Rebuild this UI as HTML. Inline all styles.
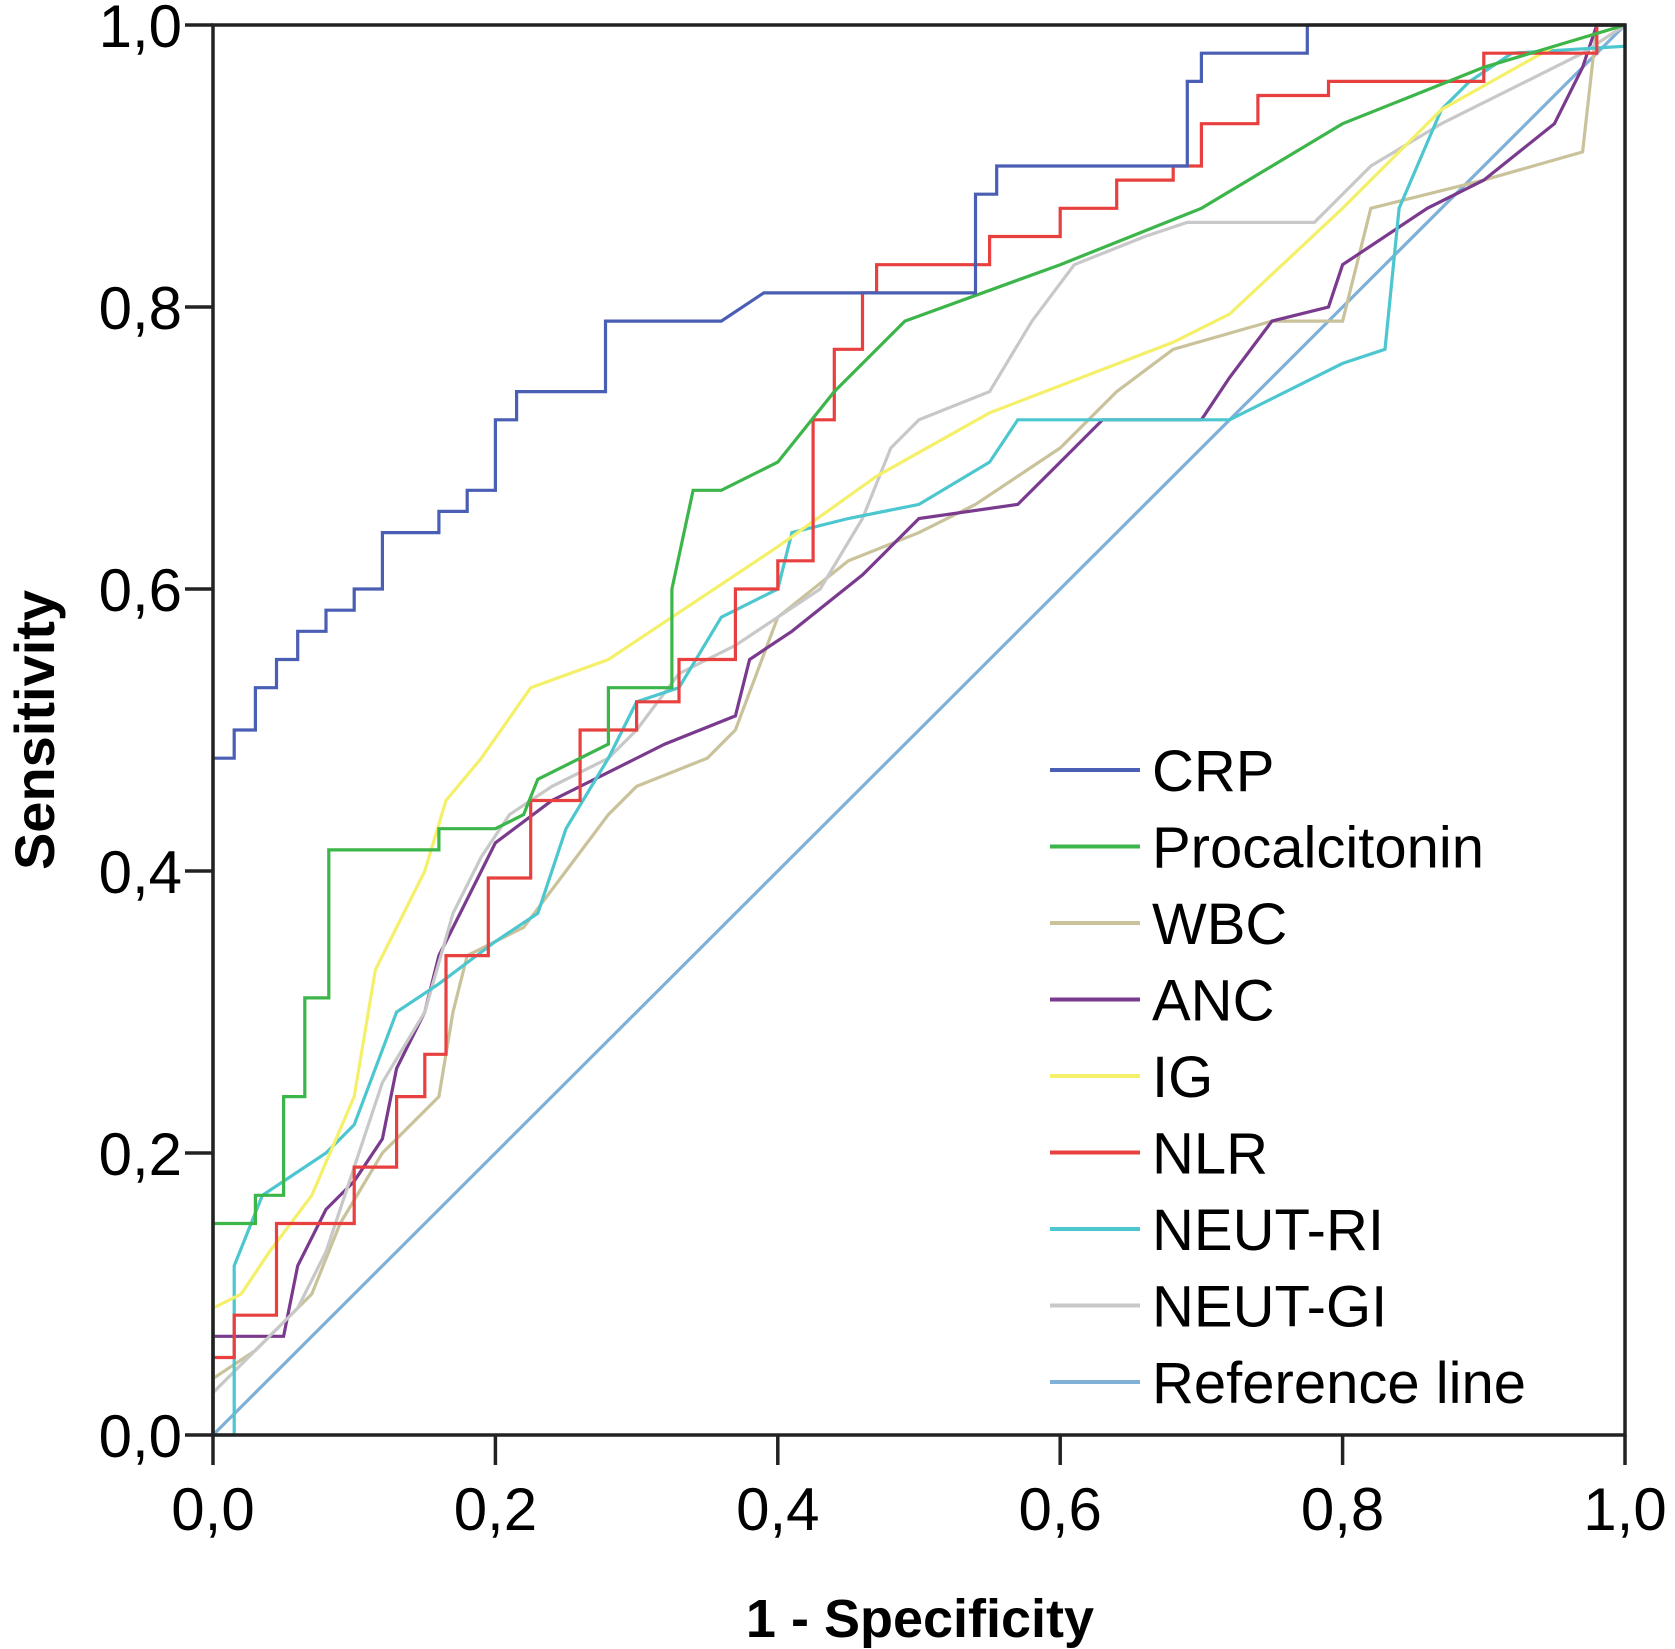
<!DOCTYPE html>
<html><head><meta charset="utf-8"><style>
html,body{margin:0;padding:0;background:#fff;}
svg{display:block;font-family:"Liberation Sans",Arial,sans-serif;}
</style></head><body>
<svg id="chart" width="1675" height="1649" viewBox="0 0 1675 1649">
<g id="series"></g>
<g id="axes"></g>
<g id="legend"></g>
<text x="920" y="1637" font-size="54" font-weight="bold" text-anchor="middle">1 - Specificity</text>
<text x="0" y="0" font-size="56" font-weight="bold" text-anchor="middle" transform="translate(54,730) rotate(-90)">Sensitivity</text>
</svg>
<script>
const xTicks = [0,0.2,0.4,0.6,0.8,1.0];
const yTicks = [0,0.2,0.4,0.6,0.8,1.0];
const tickLabels = ["0,0","0,2","0,4","0,6","0,8","1,0"];
const seriesNames = ["CRP","Procalcitonin","WBC","ANC","IG","NLR","NEUT-RI","NEUT-GI","Reference line"];
const seriesColors = ["#4a5fb4","#3cb54a","#c9c29a","#7a3a8e","#f4f06a","#e8403f","#4cc6cf","#c8c8c8","#7eb0d8"];
const crp = [[0,0],[0,0.48],[0.015,0.48],[0.015,0.5],[0.03,0.5],[0.03,0.53],[0.045,0.53],[0.045,0.55],[0.06,0.55],[0.06,0.57],[0.08,0.57],[0.08,0.585],[0.1,0.585],[0.1,0.6],[0.12,0.6],[0.12,0.64],[0.16,0.64],[0.16,0.655],[0.18,0.655],[0.18,0.67],[0.2,0.67],[0.2,0.72],[0.215,0.72],[0.215,0.74],[0.278,0.74],[0.278,0.79],[0.36,0.79],[0.39,0.81],[0.54,0.81],[0.54,0.88],[0.555,0.88],[0.555,0.9],[0.69,0.9],[0.69,0.96],[0.70,0.96],[0.70,0.98],[0.775,0.98],[0.775,1],[1,1]];
const procalcitonin = [[0,0],[0,0.15],[0.03,0.15],[0.03,0.17],[0.05,0.17],[0.05,0.24],[0.065,0.24],[0.065,0.31],[0.082,0.31],[0.082,0.415],[0.16,0.415],[0.16,0.43],[0.2,0.43],[0.22,0.44],[0.23,0.465],[0.28,0.49],[0.28,0.53],[0.325,0.53],[0.325,0.6],[0.34,0.67],[0.36,0.67],[0.4,0.69],[0.44,0.74],[0.49,0.79],[0.6,0.83],[0.7,0.87],[0.8,0.93],[0.9,0.97],[1,1]];
const wbc = [[0,0],[0,0.04],[0.03,0.06],[0.07,0.1],[0.09,0.15],[0.12,0.2],[0.16,0.24],[0.17,0.3],[0.18,0.34],[0.22,0.36],[0.25,0.4],[0.28,0.44],[0.3,0.46],[0.35,0.48],[0.37,0.5],[0.4,0.58],[0.45,0.62],[0.5,0.64],[0.54,0.66],[0.6,0.7],[0.64,0.74],[0.68,0.77],[0.75,0.79],[0.8,0.79],[0.82,0.87],[0.9,0.89],[0.97,0.91],[0.98,1],[1,1]];
const anc = [[0,0],[0,0.07],[0.05,0.07],[0.06,0.12],[0.08,0.16],[0.1,0.18],[0.12,0.21],[0.13,0.26],[0.15,0.3],[0.16,0.34],[0.18,0.38],[0.2,0.42],[0.24,0.45],[0.28,0.47],[0.32,0.49],[0.37,0.51],[0.38,0.55],[0.41,0.57],[0.46,0.61],[0.5,0.65],[0.57,0.66],[0.6,0.69],[0.63,0.72],[0.7,0.72],[0.72,0.75],[0.75,0.79],[0.79,0.8],[0.8,0.83],[0.86,0.87],[0.9,0.89],[0.95,0.93],[0.97,0.97],[0.98,1],[1,1]];
const ig = [[0,0],[0,0.09],[0.02,0.1],[0.04,0.13],[0.07,0.17],[0.1,0.24],[0.115,0.33],[0.15,0.4],[0.165,0.45],[0.19,0.48],[0.225,0.53],[0.28,0.55],[0.4,0.63],[0.47,0.68],[0.55,0.725],[0.68,0.775],[0.72,0.795],[0.8,0.87],[0.87,0.94],[0.95,0.985],[1,1]];
const nlr = [[0,0],[0,0.055],[0.015,0.055],[0.015,0.085],[0.045,0.085],[0.045,0.15],[0.1,0.15],[0.1,0.19],[0.13,0.19],[0.13,0.24],[0.15,0.24],[0.15,0.27],[0.165,0.27],[0.165,0.34],[0.195,0.34],[0.195,0.395],[0.225,0.395],[0.225,0.45],[0.26,0.45],[0.26,0.5],[0.3,0.5],[0.3,0.52],[0.33,0.52],[0.33,0.55],[0.37,0.55],[0.37,0.6],[0.4,0.6],[0.4,0.62],[0.425,0.62],[0.425,0.72],[0.44,0.72],[0.44,0.77],[0.46,0.77],[0.46,0.81],[0.47,0.81],[0.47,0.83],[0.55,0.83],[0.55,0.85],[0.6,0.85],[0.6,0.87],[0.64,0.87],[0.64,0.89],[0.68,0.89],[0.68,0.9],[0.7,0.9],[0.7,0.93],[0.74,0.93],[0.74,0.95],[0.79,0.95],[0.79,0.96],[0.9,0.96],[0.9,0.98],[0.98,0.98],[0.98,1],[1,1]];
const neutRi = [[0,0],[0.015,0],[0.015,0.12],[0.035,0.17],[0.08,0.2],[0.1,0.22],[0.13,0.3],[0.16,0.32],[0.2,0.35],[0.23,0.37],[0.25,0.43],[0.28,0.48],[0.3,0.52],[0.33,0.53],[0.36,0.58],[0.4,0.6],[0.41,0.64],[0.45,0.65],[0.5,0.66],[0.55,0.69],[0.57,0.72],[0.72,0.72],[0.8,0.76],[0.83,0.77],[0.84,0.87],[0.87,0.94],[0.89,0.96],[0.92,0.98],[1,0.985],[1,1]];
const neutGi = [[0,0],[0,0.03],[0.03,0.06],[0.06,0.09],[0.08,0.13],[0.1,0.19],[0.12,0.25],[0.15,0.3],[0.17,0.37],[0.19,0.41],[0.21,0.44],[0.24,0.46],[0.28,0.48],[0.3,0.5],[0.33,0.54],[0.37,0.56],[0.4,0.58],[0.43,0.6],[0.46,0.65],[0.48,0.7],[0.5,0.72],[0.55,0.74],[0.58,0.79],[0.61,0.83],[0.66,0.85],[0.69,0.86],[0.78,0.86],[0.82,0.9],[0.87,0.93],[0.93,0.96],[0.97,0.98],[1,1]];
const refLine = [[0,0],[1,1]];
const seriesData = [crp,procalcitonin,wbc,anc,ig,nlr,neutRi,neutGi,refLine];

const NS="http://www.w3.org/2000/svg";
const X0=213,X1=1625,Y0=1435,Y1=25;
function xs(v){return X0+(X1-X0)*v;}
function ys(v){return Y0-(Y0-Y1)*v;}
function mk(tag,attrs,parent){const e=document.createElementNS(NS,tag);for(const k in attrs)e.setAttribute(k,attrs[k]);parent.appendChild(e);return e;}

const sg=document.getElementById('series');
const drawOrder=[8,2,3,7,6,4,5,1,0];
drawOrder.forEach(i=>{
  const p=mk('polyline',{points:seriesData[i].map(d=>xs(d[0]).toFixed(1)+','+ys(d[1]).toFixed(1)).join(' '),fill:'none',stroke:seriesColors[i],'stroke-width':3.2,'stroke-linejoin':'miter'},sg);
  
  
});

const ag=document.getElementById('axes');
const frame=mk('rect',{x:X0,y:Y1,width:X1-X0,height:Y0-Y1,fill:'none',stroke:'#222','stroke-width':3.5},ag);


xTicks.forEach((t,i)=>{
  const l=mk('line',{x1:xs(t),x2:xs(t),y1:Y0,y2:Y0+30,stroke:'#222','stroke-width':3.5},ag);
  
  
  const tx=mk('text',{x:xs(t),y:Y0+95,'font-size':60,'text-anchor':'middle',fill:'#000'},ag);
  tx.textContent=tickLabels[i];
  
  
});
yTicks.forEach((t,i)=>{
  const l=mk('line',{x1:X0-28,x2:X0,y1:ys(t),y2:ys(t),stroke:'#222','stroke-width':3.5},ag);
  
  
  const tx=mk('text',{x:182,y:ys(t)+22,'font-size':60,'text-anchor':'end',fill:'#000'},ag);
  tx.textContent=tickLabels[i];
  
  
});

const lg=document.getElementById('legend');
seriesNames.forEach((n,i)=>{
  const y=770+i*76.5;
  const l=mk('line',{x1:1050,x2:1140,y1:y,y2:y,stroke:seriesColors[i],'stroke-width':4},lg);
  
  
  const tx=mk('text',{x:1152,y:y+21,'font-size':58,fill:'#000'},lg);
  tx.textContent=n;
  
  
});
</script>
</body></html>
